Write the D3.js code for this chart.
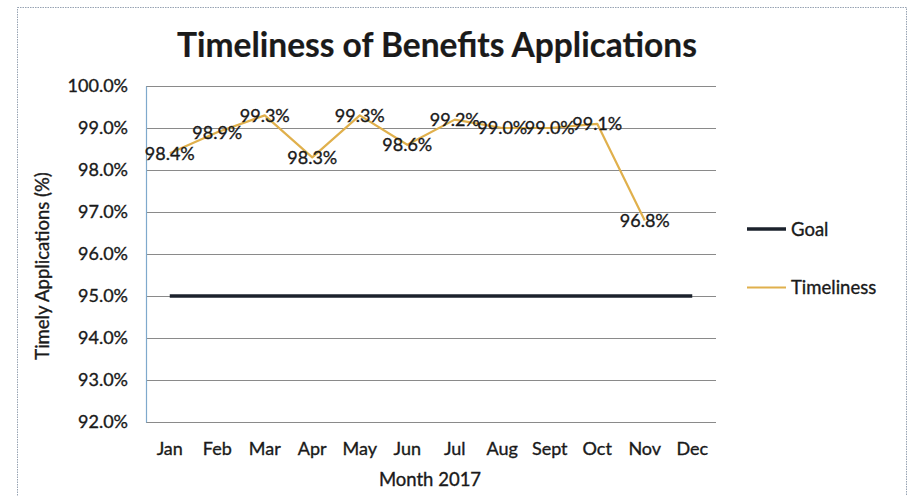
<!DOCTYPE html><html><head><meta charset="utf-8"><script src="https://cdn.jsdelivr.net/npm/d3@7"></script>
<style>body{margin:0;background:#fff}text{font-family:Lato,"Open Sans",sans-serif;fill:#1a1a1a;stroke:#1a1a1a;stroke-width:0.35px}</style></head><body><svg id="chart" width="915" height="496"></svg><script>
const months=["Jan","Feb","Mar","Apr","May","Jun","Jul","Aug","Sept","Oct","Nov","Dec"];
const timeliness=[98.4,98.9,99.3,98.3,99.3,98.6,99.2,99.0,99.0,99.1,96.8];
const goal=[95,95,95,95,95,95,95,95,95,95,95,95];
const yTicks=[92,93,94,95,96,97,98,99,100];
const titleText="Timeliness of Benefits Applications";
const xTitle="Month 2017";
const yTitle="Timely Applications (%)";
const legendItems=[{name:"Goal",color:"#1b222c",width:3.5},{name:"Timeliness",color:"#e0b04c",width:2.2}];

const svg=d3.select("#chart");
const m={left:146,right:716,top:86,bottom:422};
const x=d3.scaleBand().domain(months).range([m.left,m.right]);
const y=d3.scaleLinear().domain([92,100]).range([m.bottom,m.top]);
const cx=d=>x(d)+x.bandwidth()/2;

// outer border
svg.append("rect").attr("x",17.5).attr("y",7.5).attr("width",889).attr("height",500)
  .attr("fill","none").attr("stroke","#97a3b3").attr("stroke-width",1).attr("stroke-dasharray","1.5,1");

// title
svg.append("text").attr("x",437).attr("y",57).attr("text-anchor","middle")
  .style("font-size","33.5px").style("font-weight","bold").style("stroke-width","0.2px").text(titleText);

// gridlines
svg.append("g").selectAll("line").data(yTicks).join("line")
  .attr("x1",m.left).attr("x2",m.right).attr("y1",d=>Math.round(y(d))+0.5).attr("y2",d=>Math.round(y(d))+0.5)
  .attr("stroke","#8a8a8a").attr("stroke-width",1);

// y axis
const ya=svg.append("g").attr("transform",`translate(${m.left},0)`)
  .call(d3.axisLeft(y).tickValues(yTicks).tickSize(0).tickPadding(18).tickFormat(d=>d.toFixed(1)+"%"));
ya.select(".domain").attr("stroke","#7fa9cc").attr("stroke-width",1.2);
ya.selectAll("text").style("font-size","18px").style("font-family","Lato").attr("fill","#1a1a1a");

// x axis
const xa=svg.append("g").attr("transform",`translate(0,${m.bottom})`)
  .call(d3.axisBottom(x).tickSize(0).tickPadding(20));
xa.select(".domain").remove();
xa.selectAll("text").style("font-size","18px").style("font-family","Lato").attr("fill","#1a1a1a");

// axis titles
svg.append("text").attr("x",430).attr("y",486).attr("text-anchor","middle").style("font-size","18.5px").text(xTitle);
svg.append("text").attr("transform","translate(49,266) rotate(-90)").attr("text-anchor","middle").style("font-size","18.5px").text(yTitle);

// goal line
svg.append("path").datum(goal).attr("fill","none").attr("stroke",legendItems[0].color).attr("stroke-width",legendItems[0].width)
  .attr("d",d3.line().x((d,i)=>cx(months[i])).y(d=>y(d)));

// timeliness line
svg.append("path").datum(timeliness).attr("fill","none").attr("stroke",legendItems[1].color).attr("stroke-width",legendItems[1].width)
  .attr("stroke-linejoin","round").attr("d",d3.line().x((d,i)=>cx(months[i])).y(d=>y(d)));

// data labels
svg.append("g").selectAll("text").data(timeliness).join("text")
  .attr("x",(d,i)=>cx(months[i])).attr("y",d=>y(d)).attr("dy","0.36em").attr("text-anchor","middle")
  .style("font-size","18px").text(d=>d.toFixed(1)+"%");

// legend
const lg=svg.append("g").selectAll("g").data(legendItems).join("g")
  .attr("transform",(d,i)=>`translate(747,${229+i*58.5})`);
lg.append("line").attr("x1",0).attr("x2",39).attr("stroke",d=>d.color).attr("stroke-width",d=>d.width);
lg.append("text").attr("x",44).attr("dy","0.36em").style("font-size","18.5px").text(d=>d.name);
</script></body></html>
